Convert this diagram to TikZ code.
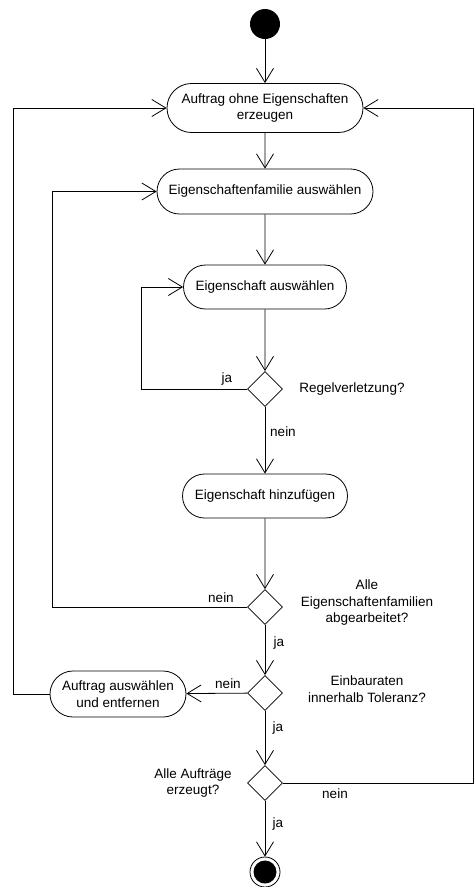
\documentclass[tikz,border=0pt]{standalone}
\usepackage{fontspec}
\setmainfont{Liberation Sans}
\usetikzlibrary{shapes.misc,shapes.geometric,arrows.meta}
\begin{document}
\begin{tikzpicture}[x=1pt,y=-1pt, line width=0.8pt,
 act/.style={draw, rounded rectangle, align=center, font=\fontsize{13.5}{16.5}\selectfont, inner sep=0pt},
 dec/.style={draw, diamond, minimum width=35pt, minimum height=35pt, inner sep=0pt},
 lbl/.style={font=\fontsize{13.5}{16.5}\selectfont, align=center, inner sep=0pt},
 flow/.style={-{Straight Barb[length=14pt,width=17pt,line width=0.8pt]}}]
\useasboundingbox (0,0) rectangle (474,887);
\node[circle, fill, minimum size=30pt, inner sep=0pt] (start) at (265,24) {};
\node[act, minimum width=196pt, minimum height=49pt] (a1) at (265,108) {Auftrag ohne Eigenschaften\\erzeugen};
\node[act, minimum width=216pt, minimum height=45pt] (a2) at (265,191.5) {Eigenschaftenfamilie auswählen};
\node[act, minimum width=163pt, minimum height=44pt] (a3) at (265,287) {Eigenschaft auswählen};
\node[dec] (d1) at (265,389) {};
\node[act, minimum width=165pt, minimum height=44pt] (a4) at (265,496) {Eigenschaft hinzufügen};
\node[dec] (d2) at (265,607) {};
\node[dec] (d3) at (265,693) {};
\node[act, minimum width=136pt, minimum height=46pt] (a5) at (118,694) {Auftrag auswählen\\und entfernen};
\node[dec] (d4) at (265,783) {};
\node[circle, draw, minimum size=30pt, inner sep=0pt, path picture={\fill (path picture bounding box.center) circle (11.5pt);}] (end) at (265,872) {};
\coordinate (xa) at (141,0);
\coordinate (xb) at (52,0);
\coordinate (xc) at (13,0);
\coordinate (xd) at (473,0);
% labels
\node[lbl] (l1) at (227,379) {ja};
\node[lbl] (l2) at (352,389) {Regelverletzung?};
\node[lbl] (l3) at (283,432) {nein};
\node[lbl] (l4) at (221,598) {nein};
\node[lbl] (l5) at (367,603) {Alle\\Eigenschaftenfamilien\\abgearbeitet?};
\node[lbl] (l6) at (279,643) {ja};
\node[lbl] (l7) at (228,684) {nein};
\node[lbl] (l8) at (367,689) {Einbauraten\\innerhalb Toleranz?};
\node[lbl] (l9) at (278,728) {ja};
\node[lbl] (l10) at (193,783) {Alle Aufträge\\erzeugt?};
\node[lbl] (l11) at (335,794) {nein};
\node[lbl] (l12) at (278,824) {ja};
% connectors
\draw[flow] (start) -- (a1);
\draw[flow] (a1) -- (a2);
\draw[flow] (a2) -- (a3);
\draw[flow] (a3) -- (d1);
\draw[flow] (d1.west) -- (d1.west -| xa) |- (a3.west);
\draw[flow] (d1) -- (a4);
\draw[flow] (a4) -- (d2);
\draw[flow] (d2.west) -- (d2.west -| xb) |- (a2.west);
\draw[flow] (d2) -- (d3);
\draw[flow] (d3) -- (a5);
\draw[flow] (a5.west) -- (a5.west -| xc) |- (a1.west);
\draw[flow] (d3) -- (d4);
\draw[flow] (d4.east) -- (d4.east -| xd) |- (a1.east);
\draw[flow] (d4) -- (end);
\end{tikzpicture}
\end{document}
